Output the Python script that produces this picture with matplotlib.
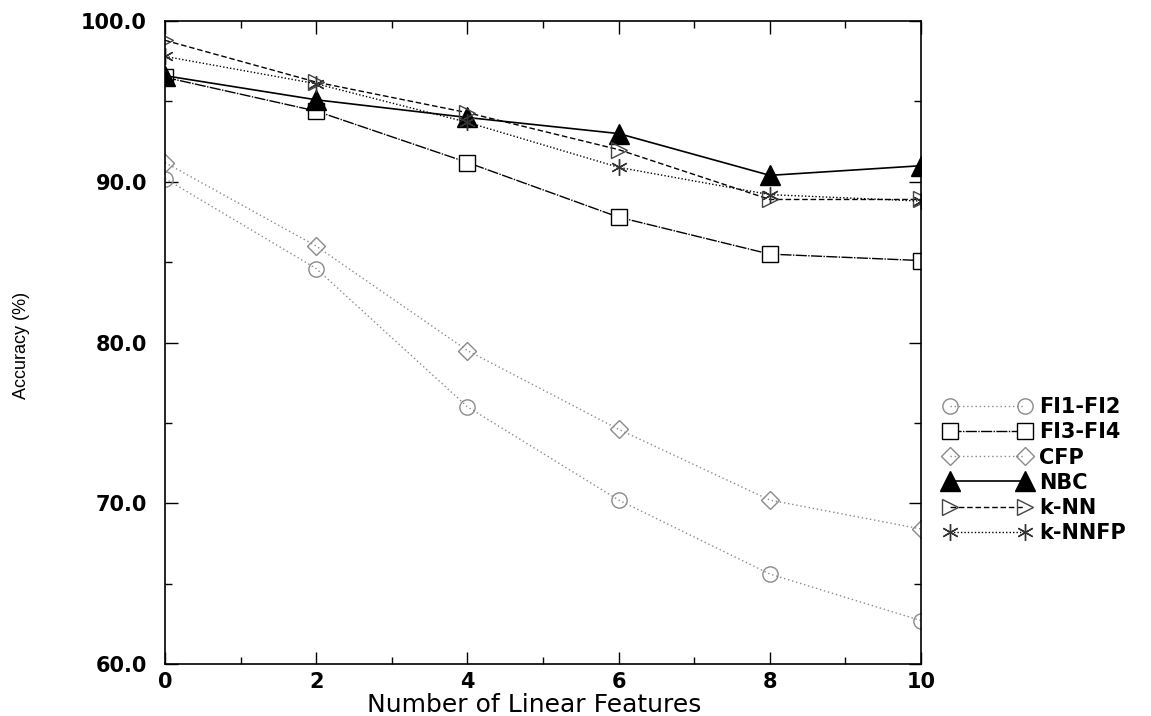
import matplotlib
matplotlib.use("Agg")
import matplotlib.pyplot as plt
from matplotlib.ticker import MultipleLocator, FormatStrFormatter

# values
n_features = [0, 2, 4, 6, 8, 10]
fi1_fi2 = [90.2, 84.6, 76.0, 70.2, 65.6, 62.7]
fi3_fi4 = [96.5, 94.4, 91.2, 87.8, 85.5, 85.1]
cfp = [91.2, 86.0, 79.5, 74.6, 70.2, 68.4]
nbc = [96.6, 95.1, 94.0, 93.0, 90.4, 91.0]
knn = [98.8, 96.2, 94.3, 92.0, 88.9, 88.9]
knnfp = [97.8, 96.1, 93.7, 90.9, 89.2, 88.8]

series_names = ['FI1-FI2', 'FI3-FI4', 'CFP', 'NBC', 'k-NN', 'k-NNFP']

plt.rcParams['font.family'] = ['DejaVu Sans']

fig = plt.figure(figsize=(11.51, 7.16), dpi=100)
ax = fig.add_axes([0.1434, 0.0726, 0.6568, 0.898])

gray = '#8a8a8a'
ax.plot(n_features, fi1_fi2, linestyle=(0, (1, 2)), color=gray, linewidth=1,
        marker='o', markersize=11, markerfacecolor='none', markeredgecolor=gray,
        markeredgewidth=1, label=series_names[0])
ax.plot(n_features, fi3_fi4, linestyle=(0, (8, 1, 1, 1)), color='black', linewidth=1,
        marker='s', markersize=11, markerfacecolor='white', markeredgecolor='black',
        markeredgewidth=1, label=series_names[1])
ax.plot(n_features, cfp, linestyle=(0, (1, 2)), color=gray, linewidth=1,
        marker='D', markersize=9, markerfacecolor='none', markeredgecolor=gray,
        markeredgewidth=1, label=series_names[2])
ax.plot(n_features, nbc, linestyle='-', color='black', linewidth=1.2,
        marker='^', markersize=14, markerfacecolor='black', markeredgecolor='black',
        label=series_names[3])
ax.plot(n_features, knn, linestyle=(0, (4, 2)), color='black', linewidth=1,
        marker='>', markersize=12, markerfacecolor='none', markeredgecolor='#444444',
        markeredgewidth=1, label=series_names[4])
ax.plot(n_features, knnfp, linestyle=(0, (1, 1.5)), color='black', linewidth=1,
        marker=(6, 2, 0), markersize=12, markeredgecolor='#333333',
        markeredgewidth=1, label=series_names[5])

ax.set_xlim(0, 10)
ax.set_ylim(60, 100)
ax.xaxis.set_major_locator(MultipleLocator(2))
ax.xaxis.set_minor_locator(MultipleLocator(1))
ax.yaxis.set_major_locator(MultipleLocator(10))
ax.yaxis.set_minor_locator(MultipleLocator(5))
ax.yaxis.set_major_formatter(FormatStrFormatter('%.1f'))
ax.tick_params(which='both', direction='in', top=True, right=True)
ax.tick_params(which='major', length=9, width=1)
ax.tick_params(which='minor', length=5, width=1)
ax.tick_params(axis='both', labelsize=15)
ax.tick_params(axis='y', pad=13)
ax.tick_params(axis='x', pad=6)
for lab in ax.get_xticklabels() + ax.get_yticklabels():
    lab.set_fontweight('bold')
for sp in ax.spines.values():
    sp.set_linewidth(1.2)

ax.set_xlabel('Number of Linear Features', fontsize=18)
ax.xaxis.set_label_coords(0.488, -0.045)
ax.set_ylabel('Accuracy (%)', fontsize=13, family=['Liberation Sans'])
ax.yaxis.set_label_coords(-0.179, 0.496)

leg = fig.legend(loc='upper left', bbox_to_anchor=(0.813, 0.457), frameon=False,
                 numpoints=2, fontsize=15, handlelength=4.2, handletextpad=0.35,
                 labelspacing=0.25, borderaxespad=0)
for t in leg.get_texts():
    t.set_fontweight('bold')

fig.savefig('out.png', dpi=100)
